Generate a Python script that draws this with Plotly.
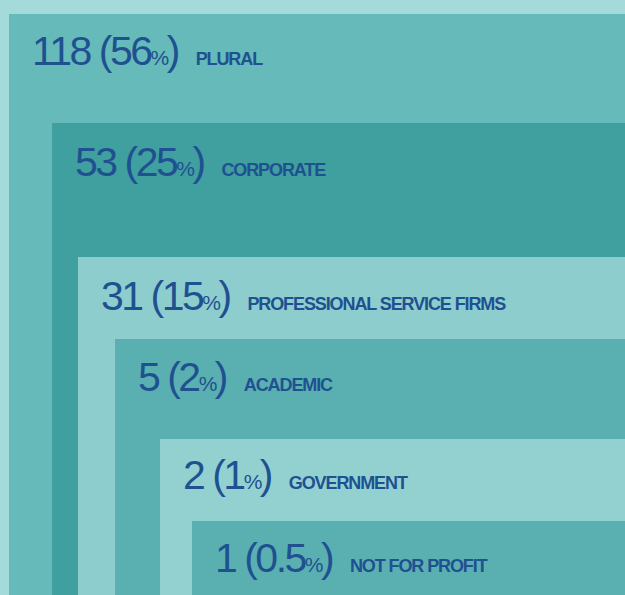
import plotly.graph_objects as go

# ---- data ----
categories = ["PLURAL", "CORPORATE", "PROFESSIONAL SERVICE FIRMS", "ACADEMIC", "GOVERNMENT", "NOT FOR PROFIT"]
counts = [118, 53, 31, 5, 2, 1]
percents = ["56", "25", "15", "2", "1", "0.5"]

# ---- layout (pixel positions of nested panels and their text) ----
W, H = 625, 595
panel_x = [9, 52, 78, 115, 160, 192]
panel_y = [14, 123, 257, 339, 439, 521]
text_x = [30, 73, 99, 136, 181, 213]
text_base = [66, 177, 311, 392, 490, 573]
panel_colors = ["#66baba", "#409f9f", "#8ecdcd", "#5ab0b0", "#93d1d1", "#5ab0b0"]
bg_color = "#a5dadb"
text_color = "#1f5190"
font_family = "Liberation Sans, Arial, Helvetica, sans-serif"

fig = go.Figure()
fig.add_trace(go.Scatter(x=[0, W], y=[0, H], mode="markers", marker=dict(opacity=0), hoverinfo="skip", showlegend=False))

shapes = []
for i in range(len(categories)):
    shapes.append(dict(type="rect", xref="x", yref="y", x0=panel_x[i], x1=W + 5, y0=panel_y[i], y1=H + 5,
                       fillcolor=panel_colors[i], line=dict(width=0), layer="below"))

annotations = []
for i, cat in enumerate(categories):
    txt = (f"<span style='letter-spacing:-2.5px'>{counts[i]} ({percents[i]}"
           f"<span style='font-size:21px;letter-spacing:-2.5px'>%</span>)&nbsp;&nbsp;</span>"
           f"<span style='font-size:18px;font-weight:bold;letter-spacing:-1.1px'>{cat}</span>")
    annotations.append(dict(x=text_x[i], y=text_base[i] - 15, xref="x", yref="y", text=txt,
                            showarrow=False, xanchor="left", yanchor="middle",
                            font=dict(family=font_family, size=41, color=text_color)))

fig.update_layout(
    width=W, height=H, margin=dict(l=0, r=0, t=0, b=0),
    paper_bgcolor=bg_color, plot_bgcolor=bg_color,
    xaxis=dict(range=[0, W], visible=False, fixedrange=True),
    yaxis=dict(range=[H, 0], visible=False, fixedrange=True),
    shapes=shapes, annotations=annotations, showlegend=False,
)
fig.write_html("out.html", config={"displayModeBar": False, "staticPlot": True},
               post_script="document.body.style.margin='0';document.body.style.overflow='hidden';")
